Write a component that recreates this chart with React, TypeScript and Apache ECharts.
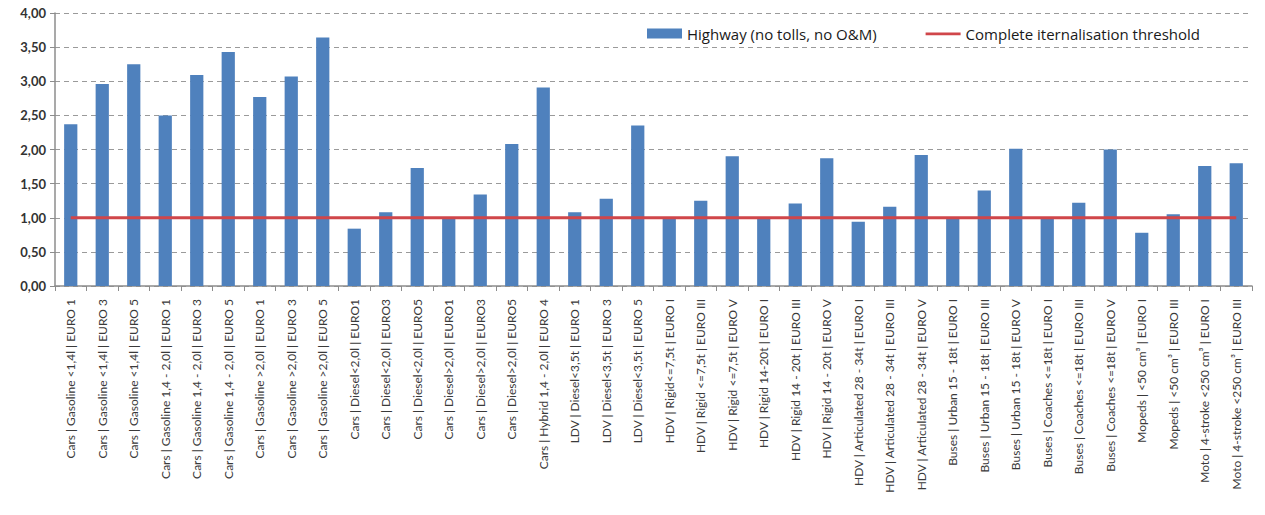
import React, { useEffect, useRef } from "react";
import * as echarts from "echarts";

const categories: string[] = [
  "Cars | Gasoline <1,4l | EURO 1",
  "Cars | Gasoline <1,4l | EURO 3",
  "Cars | Gasoline <1,4l | EURO 5",
  "Cars | Gasoline 1,4 - 2,0l | EURO 1",
  "Cars | Gasoline 1,4 - 2,0l | EURO 3",
  "Cars | Gasoline 1,4 - 2,0l | EURO 5",
  "Cars | Gasoline >2,0l | EURO 1",
  "Cars | Gasoline >2,0l | EURO 3",
  "Cars | Gasoline >2,0l | EURO 5",
  "Cars | Diesel<2,0l | EURO1",
  "Cars | Diesel<2,0l | EURO3",
  "Cars | Diesel<2,0l | EURO5",
  "Cars | Diesel>2,0l | EURO1",
  "Cars | Diesel>2,0l | EURO3",
  "Cars | Diesel>2,0l | EURO5",
  "Cars | Hybrid 1,4 - 2,0l | EURO 4",
  "LDV | Diesel<3,5t | EURO 1",
  "LDV | Diesel<3,5t | EURO 3",
  "LDV | Diesel<3,5t | EURO 5",
  "HDV | Rigid<=7,5t | EURO I",
  "HDV | Rigid <=7,5t | EURO III",
  "HDV | Rigid <=7,5t | EURO V",
  "HDV | Rigid 14-20t | EURO I",
  "HDV | Rigid 14 - 20t | EURO III",
  "HDV | Rigid 14 - 20t | EURO V",
  "HDV | Articulated 28 - 34t | EURO I",
  "HDV | Articulated 28 - 34t | EURO III",
  "HDV | Articulated 28 - 34t | EURO V",
  "Buses | Urban 15 - 18t | EURO I",
  "Buses | Urban 15 - 18t | EURO III",
  "Buses | Urban 15 - 18t | EURO V",
  "Buses | Coaches <=18t | EURO I",
  "Buses | Coaches <=18t | EURO III",
  "Buses | Coaches <=18t | EURO V",
  "Mopeds | <50 cm³ | EURO I",
  "Mopeds | <50 cm³ | EURO III",
  "Moto | 4-stroke <250 cm³ | EURO I",
  "Moto | 4-stroke <250 cm³ | EURO III",
];

const highwayValues: number[] = [
  2.37, 2.96, 3.25, 2.5, 3.09, 3.43, 2.77, 3.07, 3.64,
  0.84, 1.08, 1.73, 0.99, 1.34, 2.08, 2.91,
  1.08, 1.28, 2.35,
  1.0, 1.25, 1.9, 0.99, 1.21, 1.87, 0.94, 1.16, 1.92,
  1.01, 1.4, 2.01, 1.0, 1.22, 2.0,
  0.78, 1.05, 1.76, 1.8,
];

const thresholdValues: number[] = categories.map(() => 1);

const yTicks = { min: 0, max: 4, interval: 0.5 };

const seriesNames = {
  bar: "Highway (no tolls, no O&M)",
  line: "Complete iternalisation threshold",
};

// thin horizontal stroke used as the threshold's legend key
const lineKeyIcon =
  "path://M0,0 L0.01,0 L0,0.01 Z M0,4 L35,4 L35,6.8 L0,6.8 Z M35,10 L34.99,10 L35,9.99 Z";

export default function App() {
  const ref = useRef<HTMLDivElement>(null);

  useEffect(() => {
    if (!ref.current) return;
    const chart = echarts.init(ref.current, undefined, { renderer: "svg" });
    chart.setOption({
      animation: false,
      backgroundColor: "#ffffff",
      textStyle: { fontFamily: "Lato, 'Open Sans', sans-serif" },
      grid: { left: 55, right: 13, top: 13, bottom: 229, containLabel: false },
      legend: {
        left: 642,
        top: 21,
        itemWidth: 35,
        itemHeight: 10,
        itemGap: 49,
        textStyle: { fontSize: 15, color: "#1a1a1a", fontFamily: "'Open Sans', sans-serif" },
        data: [
          { name: seriesNames.bar, icon: "rect" },
          {
            name: seriesNames.line,
            icon: lineKeyIcon,
            itemStyle: { color: "#d0464a", borderWidth: 0 },
            lineStyle: { width: 0 },
          },
        ],
      },
      xAxis: {
        type: "category",
        data: categories,
        boundaryGap: true,
        axisLine: { lineStyle: { color: "#8c8c8c", width: 1.5 } },
        axisTick: { show: true, length: 5, lineStyle: { color: "#8c8c8c" } },
        axisLabel: {
          interval: 0,
          rotate: 90,
          margin: 13,
          fontSize: 12,
          color: "#3a3a3a",
          fontFamily: "Lato, sans-serif",
        },
      },
      yAxis: {
        type: "value",
        min: yTicks.min,
        max: yTicks.max,
        interval: yTicks.interval,
        axisLine: { show: true, lineStyle: { color: "#8c8c8c", width: 1.5 } },
        axisTick: { show: true, length: 5, lineStyle: { color: "#8c8c8c" } },
        axisLabel: {
          margin: 9,
          fontSize: 13,
          fontWeight: "bold",
          color: "#333333",
          formatter: (v: number) => v.toFixed(2).replace(".", ","),
        },
        splitLine: {
          show: true,
          lineStyle: { color: "#9a9a9a", type: [5, 4], width: 1 },
        },
      },
      series: [
        {
          name: seriesNames.bar,
          type: "bar",
          data: highwayValues,
          barWidth: "42%",
          itemStyle: { color: "#4f81bd" },
          z: 2,
        },
        {
          name: seriesNames.line,
          type: "line",
          data: thresholdValues,
          symbol: "none",
          lineStyle: { color: "#d0464a", width: 3 },
          itemStyle: { color: "#d0464a" },
          z: 3,
        },
      ],
    });
    return () => chart.dispose();
  }, []);

  return (
    <div
      ref={ref}
      style={{ position: "fixed", left: 0, top: 0, width: 1265, height: 515 }}
    />
  );
}
